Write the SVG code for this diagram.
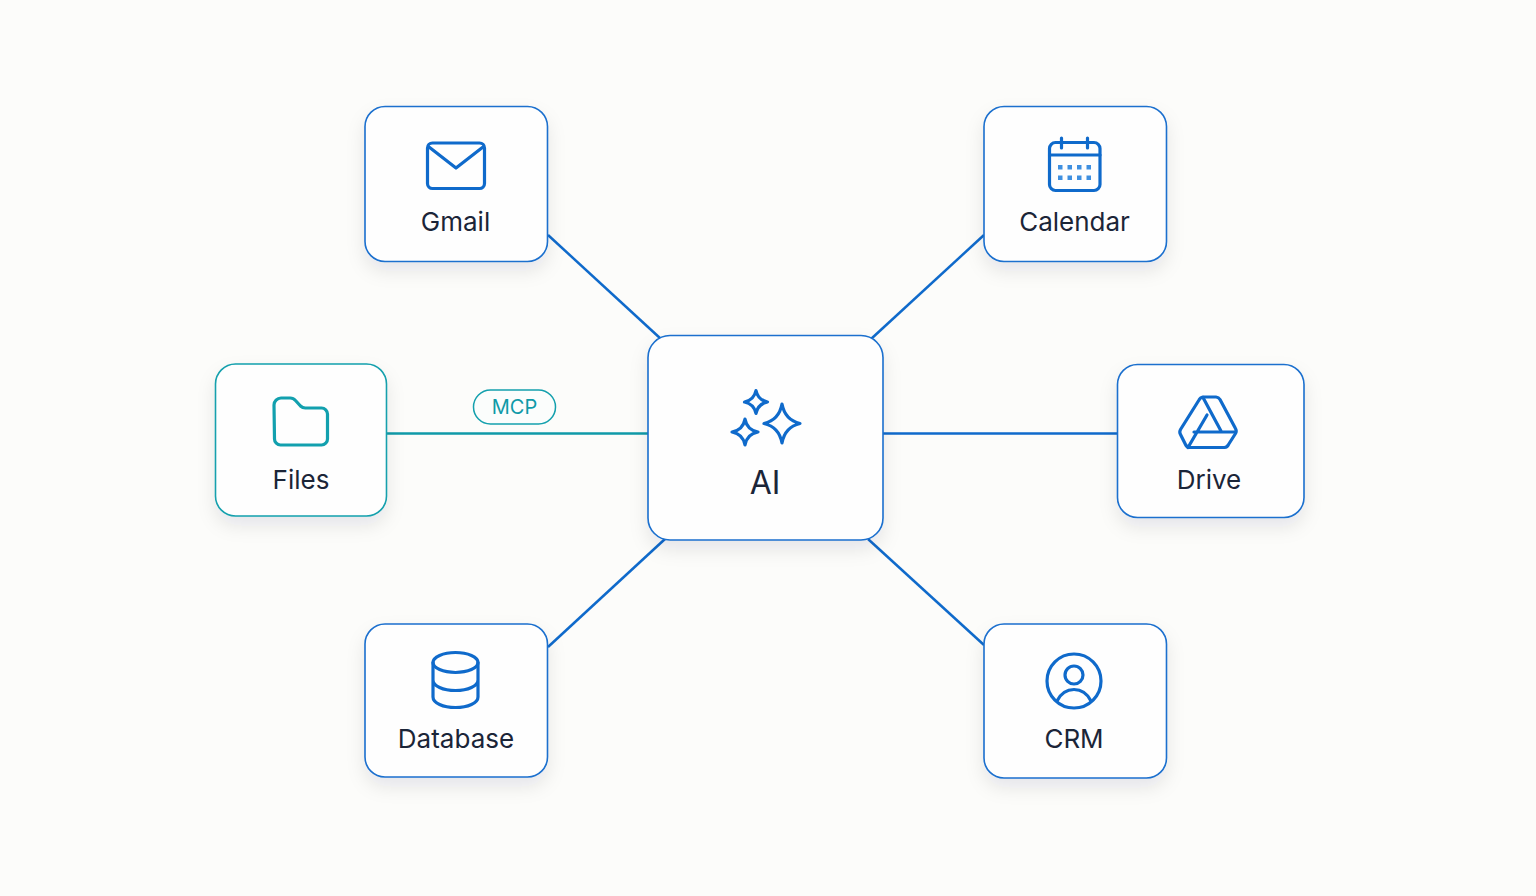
<svg xmlns="http://www.w3.org/2000/svg" width="1536" height="896" viewBox="0 0 1536 896">
<defs>
<style>
.box{fill:#fefefe;stroke:#1a6fce;stroke-width:1.6;filter:url(#sh)}
.teal{stroke:#14a0ad}
.ic{fill:none;stroke:#0f6acb;stroke-width:3.2;stroke-linecap:round;stroke-linejoin:round}
.ict{fill:none;stroke:#12a0ae;stroke-width:3.2;stroke-linecap:round;stroke-linejoin:round}
.lb{font-family:Inter,"Liberation Sans",sans-serif;font-weight:400;font-size:26px;fill:#1b2538;text-anchor:middle}
.cn{fill:none;stroke:#0f6acb;stroke-width:2.5}
.dot{fill:#3f8fe0}
</style>
<filter id="sh" x="-20%" y="-20%" width="140%" height="150%"><feDropShadow dx="0" dy="9" stdDeviation="9" flood-color="#1b2433" flood-opacity=".09"/></filter>
</defs>
<rect width="1536" height="896" fill="#fcfcfa"/>
<g id="connectors">
<path class="cn" d="M548 235L661 339"/>
<path class="cn" d="M984 235L871 339"/>
<path class="cn" d="M548 647L665 539"/>
<path class="cn" d="M984 645L868 539"/>
<path class="cn" d="M883 433.500H1118"/>
<path class="cn" style="stroke:#0f9aa8" d="M386 433.500H649"/>
</g>
<g id="mcp-label">
<rect x="473.500" y="390" width="82" height="34" rx="17" fill="#fbfdfc" stroke="#14a0ad" stroke-width="1.500"/>
<text x="514.500" y="414" font-family="Inter,'Liberation Sans',sans-serif" font-size="20" fill="#0f9aa8" text-anchor="middle">MCP</text>
</g>
<g id="node-gmail">
<rect class="box" x="365" y="106.500" width="182.500" height="155" rx="20"/>
<rect class="ic" x="427.500" y="143" width="57" height="45.500" rx="5"/>
<path class="ic" d="M429 147L456 168L483 147"/>
<text class="lb" x="455.500" y="231">Gmail</text>
</g>
<g id="node-calendar">
<rect class="box" x="984" y="106.500" width="182.500" height="155" rx="20"/>
<rect class="ic" x="1049.500" y="142.500" width="50.500" height="48" rx="6"/>
<path class="ic" d="M1049.500 155H1100M1061.500 138V148M1087.500 138V148"/>
<g class="dot"><rect x="1058" y="165" width="4.500" height="4.500"/><rect x="1067.500" y="165" width="4.500" height="4.500"/><rect x="1077" y="165" width="4.500" height="4.500"/><rect x="1086.500" y="165" width="4.500" height="4.500"/><rect x="1058" y="175.500" width="4.500" height="4.500"/><rect x="1067.500" y="175.500" width="4.500" height="4.500"/><rect x="1077" y="175.500" width="4.500" height="4.500"/><rect x="1086.500" y="175.500" width="4.500" height="4.500"/></g>
<text class="lb" x="1074.500" y="231">Calendar</text>
</g>
<g id="node-files">
<rect class="box teal" x="215.500" y="364" width="171" height="152" rx="20"/>
<path class="ict" d="M274 405a7 7 0 0 1 7-7h9a7 7 0 0 1 5.500 2.500l5 5.500a7 7 0 0 0 5 2h16a6 6 0 0 1 6 6v25a6 6 0 0 1-6 6h-41a6 6 0 0 1-6-6z"/>
<text class="lb" x="301" y="489">Files</text>
</g>
<g id="node-ai">
<rect class="box" x="648" y="335.500" width="235" height="204.500" rx="22"/>
<path class="ic" d="M782 404Q785 420 800 423.500Q785 427 782 443Q779 427 764 423.500Q779 420 782 404Z"/>
<path class="ic" d="M756 390.500Q758 400 767.500 402Q758 404 756 413.500Q754 404 744.500 402Q754 400 756 390.500Z"/>
<path class="ic" d="M745 419Q747 430 758 432Q747 434 745 445Q743 434 732 432Q743 430 745 419Z"/>
<text class="lb" x="765" y="493.500" style="font-size:32px">AI</text>
</g>
<g id="node-drive">
<rect class="box" x="1117.500" y="364.500" width="186.500" height="153" rx="20"/>
<path class="ic" d="M1199 400a5 5 0 0 1 4-3h13a5 5 0 0 1 4 2.500l15.500 29a5 5 0 0 1 0 5l-7 11a5 5 0 0 1-4 3h-35a5 5 0 0 1-4-3l-5-10a5 5 0 0 1 0-5z"/>
<path class="ic" d="M1203 397.500L1221 431M1194 432H1235M1207 415L1188 447.500"/>
<text class="lb" x="1209" y="489">Drive</text>
</g>
<g id="node-database">
<rect class="box" x="365" y="624" width="182.500" height="153" rx="20"/>
<ellipse class="ic" cx="455.500" cy="662.500" rx="22.500" ry="10"/>
<path class="ic" d="M433 662.500V697C433 703 443 707.500 455.500 707.500S478 703 478 697V662.500M433 680C433 686 443 690.500 455.500 690.500S478 686 478 680"/>
<text class="lb" x="456" y="748">Database</text>
</g>
<g id="node-crm">
<rect class="box" x="984" y="624" width="182.500" height="154" rx="20"/>
<circle class="ic" cx="1074" cy="681" r="27"/>
<circle class="ic" cx="1074" cy="675" r="9"/>
<path class="ic" d="M1057 701C1061 693 1067 689.500 1074 689.500S1087 693 1091 701"/>
<text class="lb" x="1074" y="748">CRM</text>
</g>
</svg>
